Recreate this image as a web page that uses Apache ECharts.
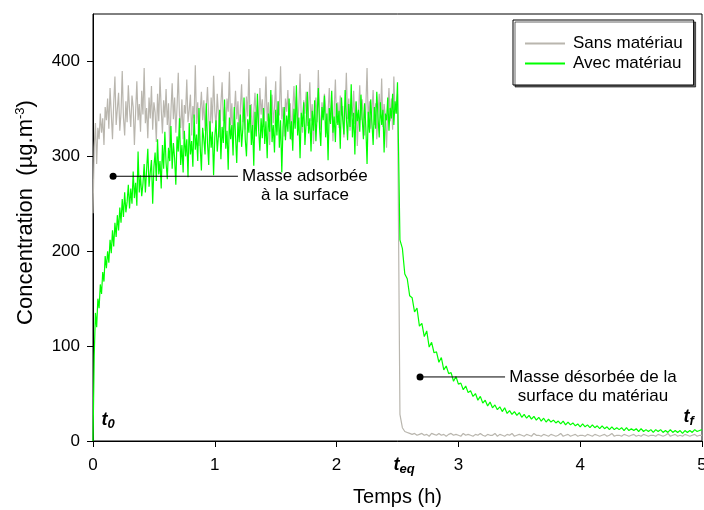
<!DOCTYPE html>
<html><head><meta charset="utf-8">
<script src="https://cdn.jsdelivr.net/npm/echarts@6/dist/echarts.min.js"></script>
<style>html,body{margin:0;padding:0;background:#fff}#c{width:704px;height:510px}</style>
</head><body><div id="c"></div>
<script>
// Phase 1 (adsorption): samples every 0.01 h from t = 0 to 2.50 h
const PHASE1_START_H = 0, PHASE1_STEP_H = 0.01;
// Phase 2 (desorption): samples every 0.02 h from t = 2.52 to 5.00 h
const PHASE2_START_H = 2.52, PHASE2_STEP_H = 0.02;

// "Sans matériau" concentration (µg.m-3)
const sansPhase1 = [
  240, 310, 335, 292, 330, 318, 345, 325, 340, 312, 352,
  338, 361, 329, 372, 345, 318, 356, 384, 333, 350,
  367, 327, 346, 390, 341, 322, 358, 336, 375, 349,
  331, 364, 352, 312, 347, 379, 338, 355, 326, 369,
  344, 393, 335, 351, 319, 362, 340, 374, 328, 357,
  346, 315, 366, 337, 383, 350, 324, 359, 341, 371,
  333, 356, 309, 348, 377, 339, 362, 325, 352, 388,
  343, 330, 360, 318, 354, 345, 381, 336, 349, 365,
  322, 353, 340, 396, 334, 357, 311, 347, 368, 338,
  359, 327, 350, 373, 342, 316, 362, 335, 385, 348,
  331, 366, 344, 320, 355, 378, 337, 352, 326, 361,
  347, 389, 333, 356, 314, 345, 369, 339, 358, 323,
  351, 376, 336, 348, 328, 363, 342, 392, 334, 355,
  319, 346, 367, 338, 354, 327, 372, 344, 360, 331,
  349, 384, 337, 357, 312, 346, 365, 335, 351, 379,
  326, 358, 343, 395, 339, 352, 321, 361, 347, 370,
  334, 356, 317, 348, 374, 341, 363, 329, 353, 387,
  340, 325, 359, 345, 368, 332, 350, 378, 337, 355,
  313, 347, 362, 336, 391, 344, 328, 357, 341, 366,
  351, 324, 346, 372, 338, 359, 316, 349, 381, 335,
  357, 330, 364, 343, 353, 320, 348, 388, 339, 361,
  327, 354, 342, 369, 334, 357, 311, 346, 375, 338,
  360, 344, 322, 352, 393, 336, 358, 329, 347, 370,
  333, 356, 318, 345, 366, 340, 382, 331, 355, 342,
  309, 350, 372, 337, 361, 328, 384, 345, 352, 366
];
const sansPhase2 = [
  28, 14, 10, 9, 8, 7, 8, 6, 7, 8,
  6, 7, 5, 8, 7, 6, 8, 6, 7, 5,
  7, 8, 6, 7, 6, 5, 8, 6, 7, 6,
  5, 7, 6, 8, 6, 5, 7, 6, 6, 8,
  5, 7, 6, 5, 7, 6, 8, 5, 6, 7,
  6, 5, 7, 6, 5, 8, 6, 6, 5, 7,
  6, 5, 7, 6, 5, 6, 8, 5, 6, 7,
  5, 6, 7, 5, 6, 6, 5, 7, 6, 5,
  7, 6, 5, 6, 7, 5, 6, 8, 5, 6,
  6, 5, 7, 6, 5, 6, 7, 5, 6, 5,
  7, 6, 5, 6, 6, 5, 7, 6, 5, 6,
  8, 5, 6, 7, 5, 6, 5, 7, 6, 5,
  6, 7, 5, 6, 6
];
// "Avec matériau" concentration (µg.m-3)
const avecPhase1 = [
  0, 90, 135, 120, 150, 140, 165, 155, 178, 168,
  195, 182, 200, 188, 212, 198, 222, 205, 230, 215, 238,
  222, 246, 230, 255, 236, 262, 241, 252, 270, 245,
  266, 250, 284, 256, 272, 248, 305, 262, 280, 258,
  271, 292, 262, 286, 308, 268, 283, 296, 250, 289,
  304, 274, 318, 281, 295, 266, 312, 287, 326, 293,
  276, 309, 295, 332, 287, 314, 298, 270, 321, 305,
  340, 291, 312, 283, 327, 300, 318, 278, 335, 302,
  316, 289, 344, 307, 323, 295, 351, 310, 285, 330,
  318, 302, 356, 314, 291, 337, 309, 326, 280, 320,
  338, 305, 322, 349, 297, 331, 314, 360, 308, 327,
  286, 341, 318, 333, 301, 352, 322, 293, 336, 315,
  344, 310, 329, 362, 318, 300, 339, 325, 354, 312,
  333, 290, 347, 321, 366, 328, 306, 340, 319, 351,
  313, 337, 298, 345, 326, 370, 315, 333, 304, 349,
  322, 358, 309, 338, 283, 331, 352, 317, 343, 326,
  361, 318, 337, 306, 350, 329, 375, 322, 341, 298,
  346, 331, 357, 312, 336, 368, 324, 340, 305, 348,
  327, 359, 316, 343, 372, 330, 311, 352, 338, 364,
  320, 345, 296, 351, 334, 369, 325, 342, 315, 356,
  333, 348, 308, 362, 339, 323, 370, 342, 317, 355,
  331, 376, 320, 346, 302, 358, 337, 349, 326, 365,
  340, 318, 356, 331, 292, 347, 325, 360, 336, 312,
  352, 329, 368, 341, 320, 357, 333, 349, 304, 345,
  338, 362, 327, 351, 340, 366, 333, 358, 345, 378
];
const avecPhase2 = [
  212, 203, 176, 171, 153, 151, 136, 140, 121, 124,
  110, 116, 99, 104, 93, 94, 83, 88, 75, 79,
  71, 72, 63, 68, 60, 61, 54, 58, 51, 53,
  47, 50, 43, 47, 40, 43, 37, 41, 35, 38,
  33, 36, 31, 35, 29, 32, 28, 31, 27, 30,
  25, 28, 24, 27, 23, 26, 22, 25, 21, 24,
  20, 23, 20, 22, 19, 21, 18, 21, 17, 20,
  17, 19, 16, 18, 15, 18, 15, 17, 14, 17,
  14, 16, 13, 16, 13, 15, 12, 15, 12, 14,
  12, 14, 11, 14, 11, 13, 11, 13, 10, 13,
  10, 12, 10, 12, 9, 12, 10, 12, 9, 11,
  9, 12, 9, 11, 9, 11, 8, 11, 9, 11,
  9, 12, 10, 11, 12
];
const seriesNames = ['Sans matériau', 'Avec matériau'];
const xTickValues = [0, 1, 2, 3, 4, 5];
const yTickValues = [0, 100, 200, 300, 400];

const FONT = "'Liberation Sans', Arial, sans-serif";
const toPairs = (arr, start, step) => arr.map((v, i) => [+(start + i * step).toFixed(2), v]);
const joinPhases = (p1, p2) => toPairs(p1, PHASE1_START_H, PHASE1_STEP_H).concat(toPairs(p2, PHASE2_START_H, PHASE2_STEP_H));

const chart = echarts.init(document.getElementById('c'));
chart.setOption({
  animation: false,
  backgroundColor: '#fff',
  grid: { left: 93, top: 14, right: 2, bottom: 69, outerBoundsMode: 'none', containLabel: false,
          show: true, borderColor: '#000', borderWidth: 1 },
  legend: {
    orient: 'vertical', left: 513, top: 20,
    data: seriesNames,
    icon: 'rect', itemWidth: 40, itemHeight: 2, itemGap: 3,
    padding: [15, 11, 13, 12],
    backgroundColor: '#fff', borderColor: '#000', borderWidth: 1,
    shadowColor: 'rgba(0,0,0,0.6)', shadowOffsetX: 2, shadowOffsetY: 2, shadowBlur: 0,
    textStyle: { fontFamily: FONT, fontSize: 17, color: '#000', padding: [0, 0, 0, 3] }
  },
  xAxis: {
    type: 'value', min: xTickValues[0], max: xTickValues[xTickValues.length - 1], interval: 1,
    name: 'Temps (h)', nameLocation: 'middle', nameGap: 46,
    nameTextStyle: { fontFamily: FONT, fontSize: 20, color: '#000' },
    axisLine: { lineStyle: { color: '#000', width: 1 } },
    axisTick: { inside: false, length: 6, lineStyle: { color: '#000' } },
    axisLabel: { fontFamily: FONT, fontSize: 17, color: '#000', margin: 16 },
    splitLine: { show: false }
  },
  yAxis: {
    type: 'value', min: yTickValues[0], max: 450, interval: 100,
    name: 'Concentration  (µg.m{sup|-3})', nameLocation: 'middle', nameGap: 55, nameRotate: 90,
    nameTextStyle: { fontFamily: FONT, fontSize: 22, color: '#000', padding: [0, 0, 0, 30],
      rich: { sup: { fontFamily: FONT, fontSize: 13, color: '#000', verticalAlign: 'top', padding: [0, 0, 11, 0] } } },
    axisLine: { show: true, lineStyle: { color: '#000', width: 1 } },
    axisTick: { show: true, inside: false, length: 6, lineStyle: { color: '#000' } },
    axisLabel: { fontFamily: FONT, fontSize: 17, color: '#000', margin: 13, showMaxLabel: false },
    splitLine: { show: false }
  },
  series: [
    { name: seriesNames[0], type: 'line', data: joinPhases(sansPhase1, sansPhase2), symbol: 'none', color: '#b9b6ae',
      lineStyle: { color: '#b9b6ae', width: 1.2 }, z: 2 },
    { name: seriesNames[1], type: 'line', data: joinPhases(avecPhase1, avecPhase2), symbol: 'none', color: '#00ff00',
      lineStyle: { color: '#00ff00', width: 1.2 }, z: 3 }
  ]
});

// annotations placed in data coordinates
const px = p => chart.convertToPixel({ xAxisIndex: 0, yAxisIndex: 0 }, p);
const g = [];
function pointer(dot, end, textCenterX, lines) {
  const a = px(dot), b = px(end), c = px([textCenterX, dot[1]]);
  g.push({ type: 'line', shape: { x1: a[0], y1: a[1], x2: b[0], y2: b[1] }, style: { stroke: '#000', lineWidth: 1 }, z: 10 });
  g.push({ type: 'circle', shape: { cx: a[0], cy: a[1], r: 3.5 }, style: { fill: '#000' }, z: 10 });
  lines.forEach((t, i) => g.push({ type: 'text', x: c[0], y: c[1] + i * 19, z: 10,
    style: { text: t, font: '17px ' + FONT, fill: '#000', align: 'center', verticalAlign: 'middle' } }));
}
pointer([0.165, 279], [1.19, 279], 1.74, ['Masse adsorbée', 'à la surface']);
pointer([2.685, 67.5], [3.383, 67.5], 4.105, ['Masse désorbée de la', 'surface du matériau']);

function tLabel(pos, sub, dy) {
  const p = px(pos);
  g.push({ type: 'text', x: p[0], y: p[1] + (dy || 0), z: 10,
    style: { text: '{t|t}{s|' + sub + '}', align: 'center', verticalAlign: 'middle',
      rich: { t: { font: 'italic bold 18px ' + FONT, fill: '#000' },
              s: { font: 'italic bold 13px ' + FONT, fill: '#000', padding: [8, 0, 0, 0] } } } });
}
tLabel([0.125, 22], '0');
tLabel([2.555, 0], 'eq', 24);
tLabel([4.89, 25], 'f');
chart.setOption({ graphic: g });
</script>
</body></html>
